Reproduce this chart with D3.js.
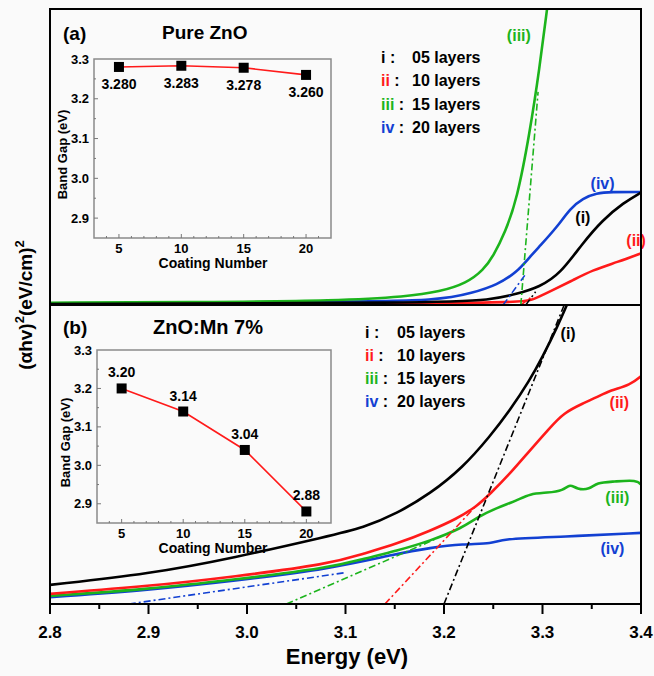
<!DOCTYPE html>
<html>
<head>
<meta charset="utf-8">
<script src="https://cdn.jsdelivr.net/npm/d3@7"></script>
<style>
  body { margin: 0; background: #fafafa; }
  svg { display: block; font-family: "Liberation Sans", Arial, sans-serif; font-weight: bold; }
</style>
</head>
<body>
<script>
var W = 654, H = 676;

// x axis (shared by both panels)
var energyTicks = [2.8, 2.9, 3.0, 3.1, 3.2, 3.3, 3.4];

// legend
var layerNames = ["i", "ii", "iii", "iv"];
var layerText = ["05 layers", "10 layers", "15 layers", "20 layers"];
var layerColors = ["#000000", "#ff1a1a", "#1cb41c", "#1240d2"];

// panel (a) Pure ZnO, (alpha h v)^2 in arbitrary units 0..100
var pureI = [[2.80,0.3],[3.196,0.7],[3.247,1.7],[3.274,3.7],[3.297,6.1],[3.318,10.5],[3.341,21],[3.361,28.7],[3.382,34.5],[3.401,38.2]];
var pureII = [[2.80,0.2],[3.277,0.5],[3.290,1.7],[3.311,5.1],[3.331,8.4],[3.351,11.8],[3.376,14.5],[3.401,17.6]];
var pureIII = [[2.80,0.75],[2.952,1.0],[3.094,1.45],[3.162,2.8],[3.196,4.5],[3.223,7.4],[3.240,11.8],[3.250,16.5],[3.262,24.5],[3.274,35.5],[3.287,58],[3.297,80],[3.305,101]];
var pureIV = [[2.80,0.5],[3.094,1.1],[3.196,1.5],[3.229,4.1],[3.254,6.8],[3.274,11.1],[3.287,16.2],[3.297,19.8],[3.315,26.4],[3.328,32.6],[3.341,36.1],[3.355,37.8],[3.369,38.2],[3.401,38.2]];
var pureTangents = [
  [[3.283,0],[3.293,4.5]],
  [[3.278,0],[3.288,2.5]],
  [[3.278,0],[3.2955,72]],
  [[3.260,0],[3.282,10]]
];
var pureTagPos = [[3.341,29.5],[3.395,21.8],[3.276,91],[3.361,41]];

// panel (b) ZnO:Mn 7%
var mnI = [[2.80,6.4],[2.9015,10.1],[2.986,15.4],[3.084,22.8],[3.118,25.5],[3.152,30.2],[3.186,36.9],[3.219,45.6],[3.247,56.2],[3.267,64.8],[3.287,74.8],[3.300,82.6],[3.315,92.6],[3.326,101]];
var mnII = [[2.80,3.4],[2.9015,6.0],[2.986,9.1],[3.084,13.4],[3.118,16.8],[3.152,20.1],[3.186,24.5],[3.213,28.5],[3.233,32.6],[3.247,36.9],[3.267,43.6],[3.287,51.3],[3.308,59.1],[3.321,63.8],[3.341,67.1],[3.355,69.1],[3.369,71.5],[3.389,73.2],[3.401,76.5]];
var mnIII = [[2.80,2.7],[2.9015,5.0],[2.986,8.1],[3.084,12.1],[3.118,15.1],[3.152,17.8],[3.186,21.1],[3.219,25.5],[3.233,28.9],[3.254,32.2],[3.274,34.6],[3.287,36.9],[3.305,37.2],[3.321,37.9],[3.328,40.3],[3.335,38.3],[3.348,38.3],[3.355,40.6],[3.372,40.9],[3.396,41.6],[3.401,39.6]];
var mnIV = [[2.80,2.3],[2.9015,4.7],[2.986,7.7],[3.084,11.7],[3.152,16.8],[3.186,18.8],[3.219,20.1],[3.250,20.1],[3.257,21.8],[3.321,22.5],[3.401,23.8]];
var mnTangents = [
  [[3.20,0],[3.322,100]],
  [[3.14,0],[3.233,33]],
  [[3.04,0],[3.19,21.5]],
  [[2.88,0],[3.10,10.5]]
];
var mnTagPos = [[3.326,90.6],[3.378,67.5],[3.376,35.6],[3.371,18.4]];

// insets: band gap vs coating number
var coatingNumbers = [5, 10, 15, 20];
var pureGap = [3.280, 3.283, 3.278, 3.260];
var pureGapText = ["3.280", "3.283", "3.278", "3.260"];
var mnGap = [3.20, 3.14, 3.04, 2.88];
var mnGapText = ["3.20", "3.14", "3.04", "2.88"];
var gapTicks = [2.9, 3.0, 3.1, 3.2, 3.3];

var svg = d3.select("body").append("svg").attr("width", W).attr("height", H);
svg.append("rect").attr("width", W).attr("height", H).attr("fill", "#fafafa");

var x = d3.scaleLinear().domain([2.8, 3.4]).range([50, 641]);

function drawPanel(top, bottom, curves, tangents, tags, id)
{
  var y = d3.scaleLinear().domain([0, 100]).range([bottom, top]);
  svg.append("clipPath").attr("id", id)
     .append("rect").attr("x", 50).attr("y", top).attr("width", 591).attr("height", bottom - top);
  var g = svg.append("g").attr("clip-path", "url(#" + id + ")");
  var line = d3.line().x(function(d) { return x(d[0]); }).y(function(d) { return y(d[1]); });
  var smooth = d3.line().curve(d3.curveBasis).x(function(d) { return x(d[0]); }).y(function(d) { return y(d[1]); });

  // draw order: keep black on top like in the original
  [3, 2, 1, 0].forEach(function(i) {
    g.append("path").attr("d", smooth(curves[i]))
     .attr("fill", "none").attr("stroke", layerColors[i]).attr("stroke-width", 2.6);
  });
  tangents.forEach(function(t, i) {
    g.append("path").attr("d", line(t))
     .attr("fill", "none").attr("stroke", layerColors[i]).attr("stroke-width", 1.6)
     .attr("stroke-dasharray", "7,3,2,3");
  });
  tags.forEach(function(p, i) {
    svg.append("text").attr("x", x(p[0])).attr("y", y(p[1]))
       .attr("text-anchor", "middle").attr("dominant-baseline", "central")
       .attr("font-size", 16).attr("fill", layerColors[i])
       .text("(" + layerNames[i] + ")");
  });
  return y;
}

drawPanel(9, 305, [pureI, pureII, pureIII, pureIV], pureTangents, pureTagPos, "clipA");
drawPanel(305, 604, [mnI, mnII, mnIII, mnIV], mnTangents, mnTagPos, "clipB");

// frames
svg.append("rect").attr("x", 50).attr("y", 9).attr("width", 591).attr("height", 595)
   .attr("fill", "none").attr("stroke", "#000").attr("stroke-width", 2);
svg.append("line").attr("x1", 50).attr("x2", 641).attr("y1", 305).attr("y2", 305)
   .attr("stroke", "#000").attr("stroke-width", 2);

// bottom axis
var xAxis = svg.append("g").attr("transform", "translate(0,604)");
xAxis.selectAll("line.minor").data(d3.range(2.85, 3.4, 0.1)).enter().append("line")
     .attr("x1", function(d) { return x(d); }).attr("x2", function(d) { return x(d); })
     .attr("y1", 0).attr("y2", 5).attr("stroke", "#000").attr("stroke-width", 2);
xAxis.selectAll("line.major").data(energyTicks).enter().append("line")
     .attr("x1", function(d) { return x(d); }).attr("x2", function(d) { return x(d); })
     .attr("y1", 0).attr("y2", 10).attr("stroke", "#000").attr("stroke-width", 2);
xAxis.selectAll("text").data(energyTicks).enter().append("text")
     .attr("x", function(d) { return x(d); }).attr("y", 34)
     .attr("text-anchor", "middle").attr("font-size", 17)
     .text(function(d) { return d3.format(".1f")(d); });
svg.append("text").attr("x", 347).attr("y", 664).attr("text-anchor", "middle")
   .attr("font-size", 22).text("Energy (eV)");

// y label
var yl = svg.append("text").attr("transform", "translate(32,305) rotate(-90)")
   .attr("text-anchor", "middle").attr("font-size", 19);
yl.append("tspan").text("(\u03b1hv)");
yl.append("tspan").attr("dy", -8).attr("font-size", 13).text("2");
yl.append("tspan").attr("dy", 8).text("(eV/cm)");
yl.append("tspan").attr("dy", -8).attr("font-size", 13).text("2");

// panel titles
svg.append("text").attr("x", 63).attr("y", 40).attr("font-size", 19).text("(a)");
svg.append("text").attr("x", 162).attr("y", 39).attr("font-size", 19).text("Pure ZnO");
svg.append("text").attr("x", 63).attr("y", 334).attr("font-size", 19).text("(b)");
svg.append("text").attr("x", 153).attr("y", 334).attr("font-size", 20).text("ZnO:Mn 7%");

// legends
function drawLegend(x0, xNum, ys)
{
  ys.forEach(function(yy, i) {
    var t = svg.append("text").attr("x", x0).attr("y", yy).attr("dominant-baseline", "central").attr("font-size", 16);
    t.append("tspan").attr("fill", layerColors[i]).text(layerNames[i]);
    t.append("tspan").attr("fill", "#000").text(" :");
    svg.append("text").attr("x", xNum).attr("y", yy).attr("dominant-baseline", "central")
       .attr("font-size", 16).text(layerText[i]);
  });
}
drawLegend(381, 412, [57, 80, 104, 127]);
drawLegend(365, 397, [332, 355, 378, 401]);

// inset charts
function drawInset(x0, x1, y0, y1, gaps, texts, labelAbove)
{
  var ix = d3.scaleLinear().domain([3, 22]).range([x0, x1]);
  var iy = d3.scaleLinear().domain([2.85, 3.3]).range([y1, y0]);
  var g = svg.append("g");
  g.append("rect").attr("x", x0).attr("y", y0).attr("width", x1 - x0).attr("height", y1 - y0)
   .attr("fill", "#fafafa").attr("stroke", "#8a8a8a").attr("stroke-width", 1.5);
  // ticks
  g.selectAll("line.xt").data(d3.range(4, 22, 1)).enter().append("line")
   .attr("x1", function(d) { return ix(d); }).attr("x2", function(d) { return ix(d); })
   .attr("y1", y1).attr("y2", function(d) { return d % 5 == 0 ? y1 - 4 : y1 - 2; })
   .attr("stroke", "#777").attr("stroke-width", 1);
  g.selectAll("line.yt").data(d3.range(2.9, 3.3, 0.05)).enter().append("line")
   .attr("x1", x0).attr("x2", function(d, i) { return i % 2 == 0 ? x0 + 4 : x0 + 2; })
   .attr("y1", function(d) { return iy(d); }).attr("y2", function(d) { return iy(d); })
   .attr("stroke", "#777").attr("stroke-width", 1);
  g.selectAll("text.xl").data(coatingNumbers).enter().append("text")
   .attr("x", function(d) { return ix(d); }).attr("y", y1 + 15)
   .attr("text-anchor", "middle").attr("font-size", 13).text(function(d) { return d; });
  g.selectAll("text.yl").data(gapTicks).enter().append("text")
   .attr("x", x0 - 5).attr("y", function(d) { return iy(d); })
   .attr("text-anchor", "end").attr("dominant-baseline", "central")
   .attr("font-size", 13).text(function(d) { return d3.format(".1f")(d); });
  g.append("text").attr("x", 213).attr("y", y1 + 30).attr("text-anchor", "middle")
   .attr("font-size", 14).text("Coating Number");
  g.append("text").attr("transform", "translate(" + (x0 - 27) + "," + ((y0 + y1) / 2 + 6) + ") rotate(-90)")
   .attr("text-anchor", "middle").attr("font-size", 13).text("Band Gap (eV)");

  var pts = coatingNumbers.map(function(c, i) { return [c, gaps[i]]; });
  g.append("path").attr("d", d3.line().x(function(d) { return ix(d[0]); }).y(function(d) { return iy(d[1]); })(pts))
   .attr("fill", "none").attr("stroke", "#ff1a1a").attr("stroke-width", 1.6);
  g.selectAll("rect.pt").data(pts).enter().append("rect")
   .attr("x", function(d) { return ix(d[0]) - 5; }).attr("y", function(d) { return iy(d[1]) - 5; })
   .attr("width", 10).attr("height", 10).attr("fill", "#000");
  g.selectAll("text.val").data(pts).enter().append("text")
   .attr("x", function(d) { return ix(d[0]); })
   .attr("y", function(d) { return labelAbove ? iy(d[1]) - 16 : iy(d[1]) + 17; })
   .attr("text-anchor", "middle").attr("dominant-baseline", "central").attr("font-size", 14)
   .text(function(d, i) { return texts[i]; });
}
drawInset(94, 331, 59, 238, pureGap, pureGapText, false);
drawInset(97, 331, 350, 523, mnGap, mnGapText, true);
</script>
</body>
</html>
